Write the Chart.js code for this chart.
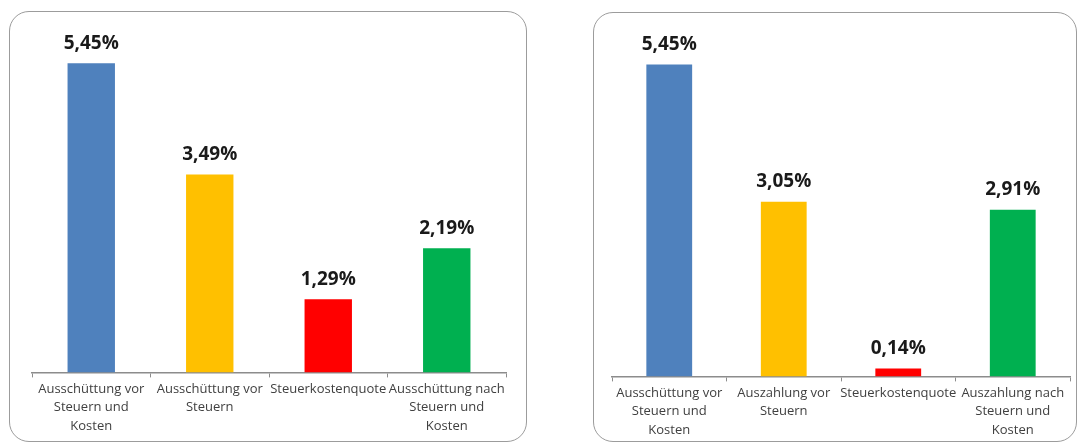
<!DOCTYPE html>
<html lang="de">
<head>
    <meta charset="UTF-8">
    <title>Ausschüttung vs. Auszahlung</title>
    <script src="https://cdn.jsdelivr.net/npm/chart.js"></script>
    <style>
        html, body { margin: 0; padding: 0; background: #fff; }
        body { width: 1080px; height: 443px; position: relative; overflow: hidden; }
        .panel {
            position: absolute;
            border: 1.5px solid #9c9c9c;
            border-radius: 20px;
            background: #fff;
            box-sizing: border-box;
        }
        #panelLeft { left: 9px; top: 11px; width: 518px; height: 431px; }
        #panelRight { left: 593px; top: 12px; width: 484px; height: 430px; }
        canvas { position: absolute; top: 0; }
        #chartLeft { left: 0; }
        #chartRight { left: 540px; }
    </style>
</head>
<body>
    <div class="panel" id="panelLeft"></div>
    <div class="panel" id="panelRight"></div>
    <canvas id="chartLeft" width="540" height="443"></canvas>
    <canvas id="chartRight" width="540" height="443"></canvas>
    <script>
        // data
        const leftCategories = [
            ['Ausschüttung vor', 'Steuern und', 'Kosten'],
            ['Ausschüttung vor', 'Steuern'],
            'Steuerkostenquote',
            ['Ausschüttung nach', 'Steuern und', 'Kosten']
        ];
        const leftValues = [5.45, 3.49, 1.29, 2.19];

        const rightCategories = [
            ['Ausschüttung vor', 'Steuern und', 'Kosten'],
            ['Auszahlung vor', 'Steuern'],
            'Steuerkostenquote',
            ['Auszahlung nach', 'Steuern und', 'Kosten']
        ];
        const rightValues = [5.45, 3.05, 0.14, 2.91];

        const barColors = ['#4f81bd', '#ffc000', '#ff0000', '#00b050'];
        const yMax = 6;

        // draws the percent label above each bar
        const valueLabels = {
            id: 'valueLabels',
            afterDatasetsDraw(chart) {
                const ctx = chart.ctx;
                const meta = chart.getDatasetMeta(0);
                const values = chart.data.datasets[0].data;
                ctx.save();
                ctx.font = 'bold 19px "Open Sans"';
                ctx.fillStyle = '#1a1a1a';
                ctx.textAlign = 'center';
                ctx.textBaseline = 'middle';
                meta.data.forEach((bar, i) => {
                    const txt = values[i].toFixed(2).replace('.', ',') + '%';
                    ctx.fillText(txt, bar.x, bar.y - 20);
                });
                ctx.restore();
            }
        };

        function makeChart(canvasId, labels, values, padding) {
            const ctx = document.getElementById(canvasId).getContext('2d');
            return new Chart(ctx, {
                type: 'bar',
                data: {
                    labels: labels,
                    datasets: [{
                        data: values,
                        backgroundColor: barColors,
                        borderWidth: 0,
                        barPercentage: 0.4,
                        categoryPercentage: 1
                    }]
                },
                options: {
                    responsive: false,
                    animation: false,
                    devicePixelRatio: 1,
                    layout: { padding: padding },
                    plugins: {
                        legend: { display: false },
                        tooltip: { enabled: false }
                    },
                    scales: {
                        x: {
                            grid: {
                                drawOnChartArea: false,
                                drawTicks: true,
                                tickLength: 5,
                                color: '#8c8c8c'
                            },
                            border: { color: '#8c8c8c', width: 1.5 },
                            ticks: {
                                color: '#404040',
                                font: { family: 'Open Sans', size: 13, lineHeight: 1.4 },
                                padding: 3,
                                maxRotation: 0,
                                autoSkip: false
                            }
                        },
                        y: {
                            display: false,
                            min: 0,
                            max: yMax
                        }
                    }
                },
                plugins: [valueLabels]
            });
        }

        makeChart('chartLeft', leftCategories, leftValues, { left: 32, right: 34, top: 32, bottom: 5 });
        makeChart('chartRight', rightCategories, rightValues, { left: 72, right: 10, top: 33, bottom: 1 });
    </script>
</body>
</html>
